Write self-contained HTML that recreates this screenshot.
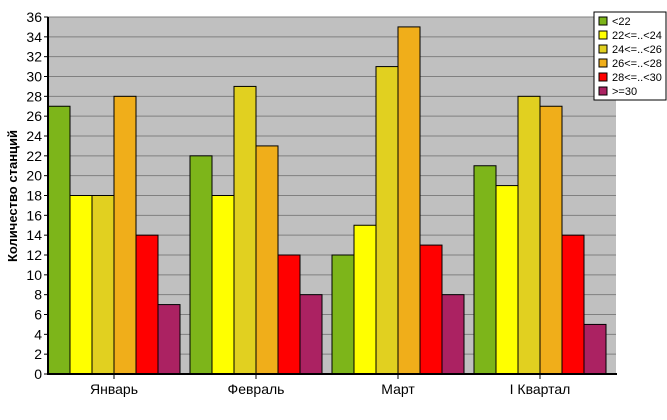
<!DOCTYPE html>
<html><head><meta charset="utf-8"><style>
body{margin:0;background:#fff;font-family:"Liberation Sans",sans-serif;}
</style></head><body>
<svg id="chart" width="667" height="415" xmlns="http://www.w3.org/2000/svg" font-family="Liberation Sans, sans-serif">
<rect x="48" y="17" width="568" height="357" fill="#c0c0c0"/>
<g id="grid"></g>
<g id="bars"></g>
<line x1="48" y1="17" x2="48" y2="375" stroke="#000" stroke-width="2"/>
<line x1="47" y1="374" x2="617" y2="374" stroke="#000" stroke-width="2"/>
<g id="yticks"></g>
<g id="xticks"></g>
<text transform="translate(17,196) rotate(-90)" text-anchor="middle" font-size="13" font-weight="bold">Количество станций</text>
<g id="legend">
<rect x="594" y="12" width="72" height="88" fill="#fff" stroke="#000"/>
</g>
</svg>
<script>
const categories=["Январь","Февраль","Март","I Квартал"];
const seriesNames=["<22","22<=..<24","24<=..<26","26<=..<28","28<=..<30",">=30"];
const colors=["#7db51a","#ffff00","#e1d020","#f0ae1a","#ff0000","#ab2262"];
const s0=[27,22,12,21];
const s1=[18,18,15,19];
const s2=[18,29,31,28];
const s3=[28,23,35,27];
const s4=[14,12,13,14];
const s5=[7,8,8,5];
const series=[s0,s1,s2,s3,s4,s5];
const yTicks=[0,2,4,6,8,10,12,14,16,18,20,22,24,26,28,30,32,34,36];
const NS="http://www.w3.org/2000/svg";
const x0=48,x1=616,yTop=17,yBot=374,yMax=36;
const y=v=>yBot-(yBot-yTop)*v/yMax;
const gw=(x1-x0)/categories.length,bw=22;
function mk(t,a,p){const e=document.createElementNS(NS,t);for(const k in a)e.setAttribute(k,a[k]);p.appendChild(e);return e;}
const grid=document.getElementById('grid'),yt=document.getElementById('yticks');
yTicks.forEach(v=>{
 if(v>0){const l=mk('line',{x1:x0,x2:x1,y1:y(v),y2:y(v),stroke:'#808080'},grid);
 
 }
 mk('line',{x1:x0-4,x2:x0,y1:y(v),y2:y(v),stroke:'#000'},yt);
 const t=mk('text',{x:x0-6,y:y(v)+5,'text-anchor':'end','font-size':'14'},yt);
 
 
 t.textContent=v;
});
const bars=document.getElementById('bars'),xt=document.getElementById('xticks');
categories.forEach((c,i)=>{
 const gx=x0+gw*i;
 series.forEach((s,j)=>{
  const r=mk('rect',{x:gx+j*bw,y:y(s[i]),width:bw,height:yBot-y(s[i]),fill:colors[j],stroke:'#000','stroke-width':1},bars);
  
  
 });
 const cx=gx+bw*3;
 mk('line',{x1:cx,x2:cx,y1:yBot,y2:yBot+5,stroke:'#000'},xt);
 const t=mk('text',{x:cx,y:yBot+20,'text-anchor':'middle','font-size':'14'},xt);
 
 
 t.textContent=c;
});
const lg=document.getElementById('legend');
seriesNames.forEach((n,j)=>{
 const ly=21+j*14;
 const r=mk('rect',{x:599,y:ly-4,width:8,height:8,fill:colors[j],stroke:'#000'},lg);
 
 
 const t=mk('text',{x:612,y:ly+4,'font-size':'11'},lg);
 
 
 t.textContent=n;
});
</script>
</body></html>
